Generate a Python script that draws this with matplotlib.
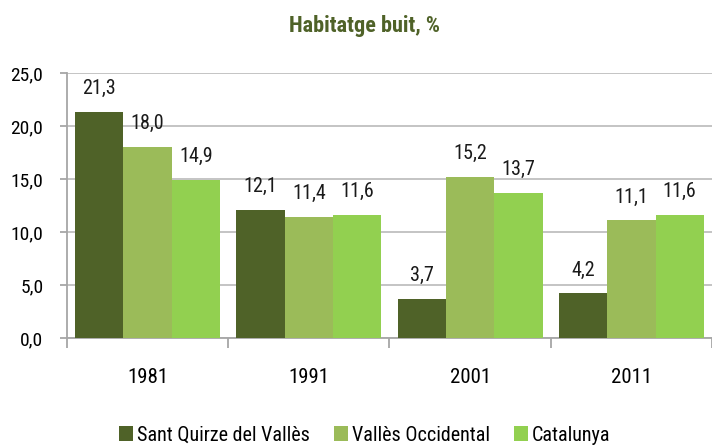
import matplotlib.pyplot as plt
import numpy as np

# Data
years = ["1981", "1991", "2001", "2011"]
sant_quirze = [21.3, 12.1, 3.7, 4.2]
valles_occ = [18.0, 11.4, 15.2, 11.1]
catalunya = [14.9, 11.6, 13.7, 11.6]
series_names = ["Sant Quirze del Vallès", "Vallès Occidental", "Catalunya"]
colors = ["#4F6228", "#9BBB59", "#92D050"]

plt.rcParams["font.family"] = ["Roboto Condensed", "DejaVu Sans"]

fig = plt.figure(figsize=(7.12, 4.47), dpi=100)
ax = fig.add_axes([0.094, 0.244, 0.906, 0.593])

x = np.arange(len(years))
w = 0.3
for i, (vals, name, c) in enumerate(zip([sant_quirze, valles_occ, catalunya], series_names, colors)):
    bars = ax.bar(x + (i - 1) * w, vals, w, color=c, label=name, zorder=3)
    for b, v in zip(bars, vals):
        ax.text(b.get_x() + b.get_width() / 2, v + 1.3, f"{v:.1f}".replace(".", ","),
                ha="center", va="bottom", fontsize=14.5, color="#1a1a1a")

ax.set_xlim(-0.5, 3.5)
ax.set_ylim(0, 25)
ax.set_yticks(np.arange(0, 26, 5))
ax.set_yticklabels([f"{v:.1f}".replace(".", ",") for v in np.arange(0, 26, 5)], fontsize=14)
ax.yaxis.grid(True, color="#BFBFBF", linewidth=1.3, zorder=0)
ax.set_axisbelow(True)

ax.set_xticks(x)
ax.set_xticklabels(years, fontsize=15)
ax.tick_params(axis="x", length=0, pad=22)
ax.set_xticks(np.arange(-0.5, 4, 1), minor=True)
ax.tick_params(axis="x", which="minor", length=7, color="#A6A6A6", width=1.3)
ax.tick_params(axis="y", length=5, color="#A6A6A6", width=1.3, pad=12)

for s in ["top", "right"]:
    ax.spines[s].set_visible(False)
for s in ["left", "bottom"]:
    ax.spines[s].set_color("#A6A6A6")
    ax.spines[s].set_linewidth(1.3)

fig.text(0.512, 0.942, "Habitatge buit, %", ha="center", va="center",
         fontsize=16, fontweight="bold", color="#4F6228")

fig.legend(loc="lower center", bbox_to_anchor=(0.512, -0.035), ncol=3, frameon=False,
           fontsize=14.5, handlelength=0.7, handleheight=0.7, handletextpad=0.2,
           columnspacing=1.2)

plt.savefig("out.png", dpi=100)
